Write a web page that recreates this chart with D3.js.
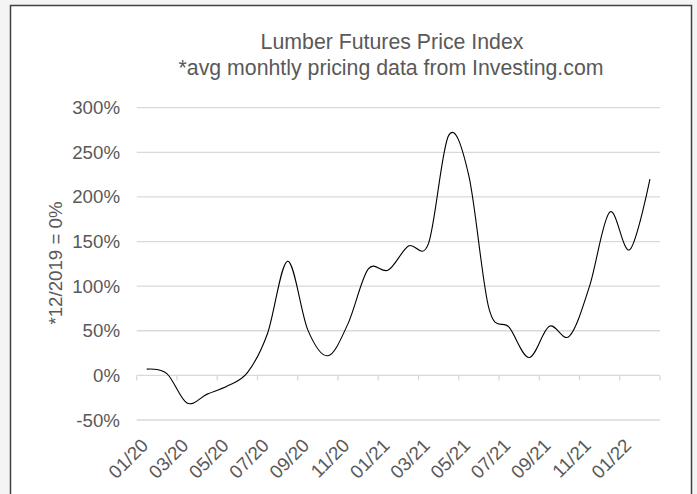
<!DOCTYPE html>
<html>
<head>
<meta charset="utf-8">
<script src="https://cdn.jsdelivr.net/npm/d3@7"></script>
<style>
  body { margin: 0; background: #f4f4f4; }
  text { font-family: "Liberation Sans", Arial, sans-serif; fill: #595959; }
</style>
</head>
<body>
<div class="container"></div>
<script>
// monthly categories, 01/2020 .. 02/2022
var months = ["01/20","02/20","03/20","04/20","05/20","06/20","07/20","08/20","09/20","10/20","11/20","12/20",
              "01/21","02/21","03/21","04/21","05/21","06/21","07/21","08/21","09/21","10/21","11/21","12/21",
              "01/22","02/22"];
// % change vs 12/2019
var values = [7, 2, -31, -21, -12, 3, 47, 128, 51, 22, 58, 119,
              118, 145, 148, 269, 224, 75, 54, 20, 55, 44, 100, 183,
              141, 220];
var yTicks = [-50, 0, 50, 100, 150, 200, 250, 300];

var w = 697, h = 494;

var svg = d3.select(".container")
    .append("svg")
    .attr("width", w)
    .attr("height", h)
    .style("display", "block");

// chart frame
svg.append("rect")
    .attr("x", 10.5)
    .attr("y", 5.5)
    .attr("width", 681)
    .attr("height", 500)
    .attr("fill", "white")
    .attr("stroke", "#404040")
    .attr("stroke-width", 1.5);

var x = d3.scaleBand()
    .domain(months)
    .range([136.7, 660]);

var y = d3.scaleLinear()
    .domain([-50, 300])
    .range([420, 107.7]);

// gridlines
svg.selectAll(".grid")
    .data(yTicks)
    .enter()
    .append("line")
    .attr("x1", x.range()[0])
    .attr("x2", x.range()[1])
    .attr("y1", function(d) { return y(d); })
    .attr("y2", function(d) { return y(d); })
    .attr("stroke", "#d9d9d9")
    .attr("stroke-width", 1.3);

// y labels
svg.selectAll(".ylab")
    .data(yTicks)
    .enter()
    .append("text")
    .attr("x", 120)
    .attr("y", function(d) { return y(d); })
    .attr("dy", "0.35em")
    .attr("text-anchor", "end")
    .style("font-size", "18.7px")
    .text(function(d) { return d + "%"; });

// x tick marks on the 0% line, every 2 months
var tickPos = months.filter(function(d, i) { return i % 2 === 0; })
    .map(function(d) { return x(d); });
tickPos.push(x.range()[1]);

svg.selectAll(".xtick")
    .data(tickPos)
    .enter()
    .append("line")
    .attr("x1", function(d) { return d; })
    .attr("x2", function(d) { return d; })
    .attr("y1", y(0))
    .attr("y2", y(0) + 5)
    .attr("stroke", "#d9d9d9")
    .attr("stroke-width", 1.3);

// x labels
svg.selectAll(".xlab")
    .data(months.filter(function(d, i) { return i % 2 === 0; }))
    .enter()
    .append("text")
    .attr("text-anchor", "end")
    .attr("dy", "0.35em")
    .attr("transform", function(d) {
        return "translate(" + (x(d) + x.bandwidth() / 2 - 2) + ",442)rotate(-45)";
    })
    .style("font-size", "18.7px")
    .text(function(d) { return d; });

// smoothed line
var line = d3.line()
    .x(function(d, i) { return x(months[i]) + x.bandwidth() / 2; })
    .y(function(d) { return y(d); })
    .curve(d3.curveCardinal.tension(0));

svg.append("path")
    .datum(values)
    .attr("d", line)
    .attr("fill", "none")
    .attr("stroke", "black")
    .attr("stroke-width", 1.1);

// titles
svg.append("text")
    .attr("x", 392)
    .attr("y", 49)
    .attr("text-anchor", "middle")
    .style("font-size", "21.3px")
    .text("Lumber Futures Price Index");

svg.append("text")
    .attr("x", 391)
    .attr("y", 75)
    .attr("text-anchor", "middle")
    .style("font-size", "21.3px")
    .text("*avg monhtly pricing data from Investing.com");

svg.append("text")
    .attr("text-anchor", "middle")
    .attr("transform", "translate(62,263)rotate(-90)")
    .style("font-size", "18.7px")
    .text("*12/2019 = 0%");
</script>
</body>
</html>
